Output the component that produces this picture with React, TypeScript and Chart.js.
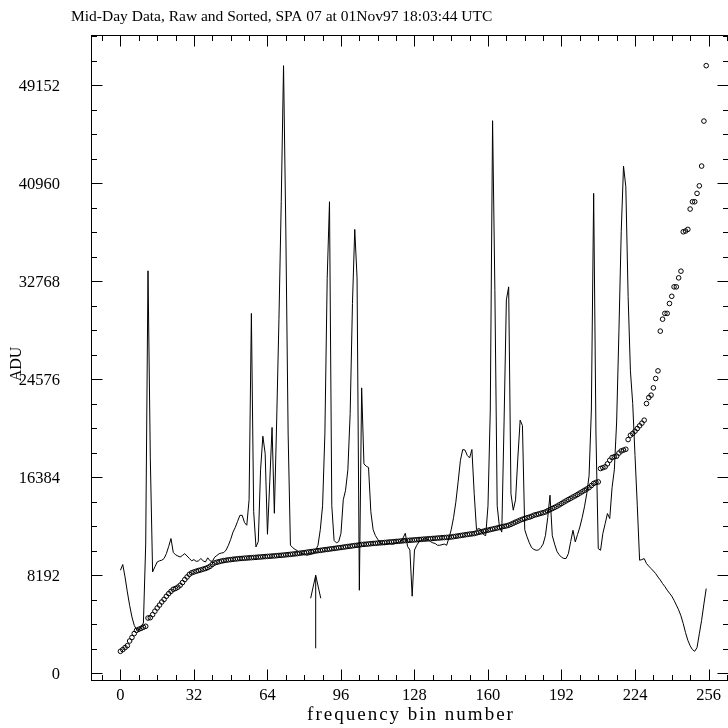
import React, { useEffect, useRef } from 'react';
import { Chart, registerables } from 'chart.js';

Chart.register(...registerables);

const TITLE = 'Mid-Day Data, Raw and Sorted, SPA 07 at 01Nov97 18:03:44 UTC';
const X_LABEL = 'frequency bin number';
const Y_LABEL = 'ADU';

const xTickValues = [0, 32, 64, 96, 128, 160, 192, 224, 256];
const yTickValues = [0, 8192, 16384, 24576, 32768, 40960, 49152];
const xMinorStep = 8;
const yMinorStep = 2048;

const X_MIN = -12.6;
const X_MAX = 264.7;
const Y_MIN = -600;
const Y_MAX = 53290;

// raw spectrum, one value per frequency bin 0..255
const rawValues = [
  8610, 9090, 8050, 6800, 5680, 4710, 4010, 3650, 3590, 3930,
  4200, 10800, 33630, 18000, 8470, 8900, 9300, 9400, 9450, 9590,
  10000, 10600, 11260, 10100, 9900, 9800, 9720, 9850, 10000, 9800,
  9600, 9400, 9500, 9350, 9400, 9590, 9400, 9300, 9650, 9400,
  9350, 9700, 9850, 10000, 10050, 10090, 10300, 10700, 11200, 11800,
  12200, 12700, 13200, 13200, 12600, 12370, 14500, 30070, 13500, 10560,
  11000, 17000, 19810, 18360, 11620, 16000, 20540, 13370, 21000, 29590,
  39400, 50770, 36950, 20000, 10700, 10500, 10350, 10250, 10100, 10000,
  9950, 9860, 9900, 9950, 10000, 10300, 10700, 12000, 14000, 20000,
  33000, 39400, 14000, 11100, 10900, 11000, 11700, 14500, 15300, 17000,
  21700, 30900, 37090, 33040, 6940, 23850, 17500, 17300, 17200, 13500,
  12000, 11500, 11200, 10900, 10800, 10750, 10800, 10850, 10800, 10800,
  10900, 10950, 11000, 11300, 11700, 10600, 10300, 6440, 10300, 10700,
  11000, 11100, 11200, 11260, 11150, 11000, 10900, 10850, 10700, 10700,
  10750, 10800, 10700, 11300, 12000, 13000, 14300, 16000, 17800, 18700,
  18650, 18200, 18000, 18700, 15000, 12000, 12100, 12000, 11600, 11500,
  14000, 22000, 46170, 32000, 14000, 12200, 11800, 21000, 31200, 32290,
  15000, 13630, 14500, 18000, 21150, 20700, 12000, 11400, 10900, 10500,
  10350, 10280, 10300, 10500, 10800, 11500, 13000, 14880, 11500, 10800,
  10200, 9900, 9700, 9600, 9590, 10000, 11000, 11950, 10980, 11600,
  12230, 13000, 13910, 15020, 16500, 22000, 40100, 20000, 10420, 10280,
  11680, 12500, 13350, 12930, 15500, 17000, 21000, 28590, 36890, 42380,
  40650, 31500, 25270, 22540, 18200, 14000, 9450, 9500, 9590, 9170,
  8950, 8750, 8550, 8330, 8050, 7800, 7500, 7250, 6950, 6700,
  6450, 6100, 5700, 5300, 4800, 4150, 3400, 2760, 2300, 1980,
  1840, 2150, 3300, 4430, 5800, 7080,
];

// the same values, in ascending order (read from the circles)
const sortedValues = [
  1840, 1980, 2150, 2310, 2700, 2990, 3320, 3590, 3680, 3760,
  3850, 3930, 4620, 4650, 4900, 5190, 5460, 5700, 5960, 6180,
  6440, 6660, 6850, 7020, 7090, 7200, 7360, 7580, 7830, 8050,
  8270, 8400, 8470, 8530, 8590, 8640, 8700, 8760, 8830, 8940,
  9100, 9220, 9280, 9330, 9380, 9420, 9450, 9480, 9500, 9530,
  9550, 9570, 9590, 9600, 9620, 9630, 9650, 9660, 9680, 9690,
  9710, 9720, 9740, 9750, 9770, 9780, 9800, 9810, 9830, 9850,
  9860, 9880, 9900, 9920, 9940, 9960, 9980, 10000, 10030, 10060,
  10080, 10110, 10140, 10170, 10190, 10220, 10250, 10270, 10300, 10330,
  10350, 10380, 10410, 10430, 10460, 10490, 10510, 10540, 10570, 10600,
  10620, 10650, 10680, 10700, 10730, 10760, 10780, 10790, 10810, 10830,
  10850, 10860, 10880, 10900, 10910, 10930, 10950, 10970, 10980, 11000,
  11020, 11030, 11050, 11070, 11090, 11100, 11120, 11130, 11150, 11160,
  11180, 11190, 11210, 11220, 11240, 11250, 11270, 11280, 11300, 11310,
  11330, 11340, 11360, 11370, 11390, 11420, 11450, 11480, 11510, 11540,
  11570, 11600, 11630, 11650, 11680, 11730, 11780, 11820, 11870, 11920,
  11960, 12010, 12050, 12100, 12140, 12190, 12230, 12280, 12320, 12370,
  12450, 12540, 12630, 12710, 12800, 12870, 12930, 13000, 13050, 13120,
  13210, 13260, 13310, 13370, 13420, 13480, 13580, 13670, 13770, 13860,
  13960, 14070, 14180, 14300, 14410, 14520, 14620, 14730, 14830, 14940,
  15060, 15170, 15290, 15400, 15520, 15690, 15860, 15950, 15990, 17110,
  17180, 17250, 17500, 17800, 18030, 18100, 18140, 18400, 18580, 18650,
  18720, 19530, 19890, 20030, 20230, 20450, 20680, 20900, 21150, 22540,
  23040, 23240, 23850, 24630, 25270, 28590, 29590, 30070, 30070, 30900,
  31500, 32290, 32290, 33040, 33600, 36890, 36950, 37090, 38790, 39400,
  39400, 40100, 40730, 42380, 46140, 50770,
];

// arrow marker (bin, ADU)
const arrowShaft = [
  { x: 85, y: 2090 },
  { x: 85, y: 8192 },
];
const arrowHead = [
  { x: 82.8, y: 6270 },
  { x: 85, y: 8192 },
  { x: 87.2, y: 6270 },
];

const SERIF = "'Liberation Serif', 'Times New Roman', serif";

const framePlugin = {
  id: 'pgFrame',
  afterDraw(chart: any) {
    const { ctx, chartArea: a } = chart;
    const xs = chart.scales.x;
    const ys = chart.scales.y;
    ctx.save();
    ctx.strokeStyle = '#000';
    ctx.lineWidth = 1;
    ctx.strokeRect(a.left, a.top, a.right - a.left, a.bottom - a.top);

    ctx.beginPath();
    for (let v = Math.ceil(X_MIN / xMinorStep) * xMinorStep; v <= X_MAX; v += xMinorStep) {
      const px = Math.round(xs.getPixelForValue(v)) + 0.5;
      const len = v % 32 === 0 ? 11 : 5.5;
      ctx.moveTo(px, a.bottom);
      ctx.lineTo(px, a.bottom - len);
      ctx.moveTo(px, a.top);
      ctx.lineTo(px, a.top + len);
    }
    for (let v = 0; v <= Y_MAX; v += yMinorStep) {
      const py = Math.round(ys.getPixelForValue(v)) + 0.5;
      const len = v % 8192 === 0 ? 11 : 5.5;
      ctx.moveTo(a.left, py);
      ctx.lineTo(a.left + len, py);
      ctx.moveTo(a.right, py);
      ctx.lineTo(a.right - len, py);
    }
    ctx.stroke();

    ctx.fillStyle = '#000';
    // y tick labels
    ctx.font = `16.5px ${SERIF}`;
    ctx.textAlign = 'right';
    ctx.textBaseline = 'middle';
    yTickValues.forEach((v) => {
      ctx.fillText(String(v), 60, ys.getPixelForValue(v) + 1.5);
    });
    // x tick labels
    ctx.textAlign = 'center';
    xTickValues.forEach((v) => {
      ctx.fillText(String(v), xs.getPixelForValue(v), 695.5);
    });

    // title
    ctx.font = `15.5px ${SERIF}`;
    ctx.textAlign = 'left';
    ctx.textBaseline = 'alphabetic';
    ctx.fillText(TITLE, 71, 20.5);

    // x axis label
    ctx.font = `19px ${SERIF}`;
    (ctx as any).letterSpacing = '2px';
    ctx.textAlign = 'center';
    ctx.fillText(X_LABEL, 411, 720);
    (ctx as any).letterSpacing = '0px';

    // y axis label
    ctx.translate(17, 364);
    ctx.rotate(-Math.PI / 2);
    ctx.font = `16px ${SERIF}`;
    ctx.textAlign = 'center';
    ctx.textBaseline = 'middle';
    ctx.fillText(Y_LABEL, 0, 0);
    ctx.restore();
  },
};

export default function App() {
  const canvasRef = useRef<HTMLCanvasElement | null>(null);

  useEffect(() => {
    const canvas = canvasRef.current;
    if (!canvas) return;
    const rawData = rawValues.map((v, i) => ({ x: i, y: v }));
    const sortedData = sortedValues.map((v, i) => ({ x: i, y: v }));
    const chart = new Chart(canvas, {
      type: 'scatter',
      data: {
        datasets: [
          {
            label: 'raw',
            data: rawData,
            showLine: true,
            borderColor: '#000',
            borderWidth: 1,
            pointRadius: 0,
            tension: 0,
          },
          {
            label: 'sorted',
            data: sortedData,
            showLine: false,
            pointStyle: 'circle',
            pointRadius: 2.3,
            borderWidth: 1,
            borderColor: '#000',
            backgroundColor: 'rgba(0,0,0,0)',
          },
          {
            label: 'arrowShaft',
            data: arrowShaft,
            showLine: true,
            borderColor: '#000',
            borderWidth: 1,
            pointRadius: 0,
          },
          {
            label: 'arrowHead',
            data: arrowHead,
            showLine: true,
            borderColor: '#000',
            borderWidth: 1,
            pointRadius: 0,
          },
        ],
      } as any,
      options: {
        responsive: false,
        animation: false,
        devicePixelRatio: 1,
        events: [],
        layout: { padding: { left: 91.5, right: 11.5, top: 35.5, bottom: 47.5 } },
        plugins: {
          legend: { display: false },
          tooltip: { enabled: false },
          title: { display: false },
        },
        scales: {
          x: { type: 'linear', min: X_MIN, max: X_MAX, display: false },
          y: { type: 'linear', min: Y_MIN, max: Y_MAX, display: false },
        },
      } as any,
      plugins: [framePlugin],
    });
    return () => chart.destroy();
  }, []);

  return (
    <div
      style={{
        position: 'absolute',
        left: 0,
        top: 0,
        width: 728,
        height: 728,
        overflow: 'hidden',
        background: '#fff',
      }}
    >
      <canvas
        ref={canvasRef}
        width={740}
        height={728}
        style={{ display: 'block', width: 740, height: 728 }}
      />
    </div>
  );
}
